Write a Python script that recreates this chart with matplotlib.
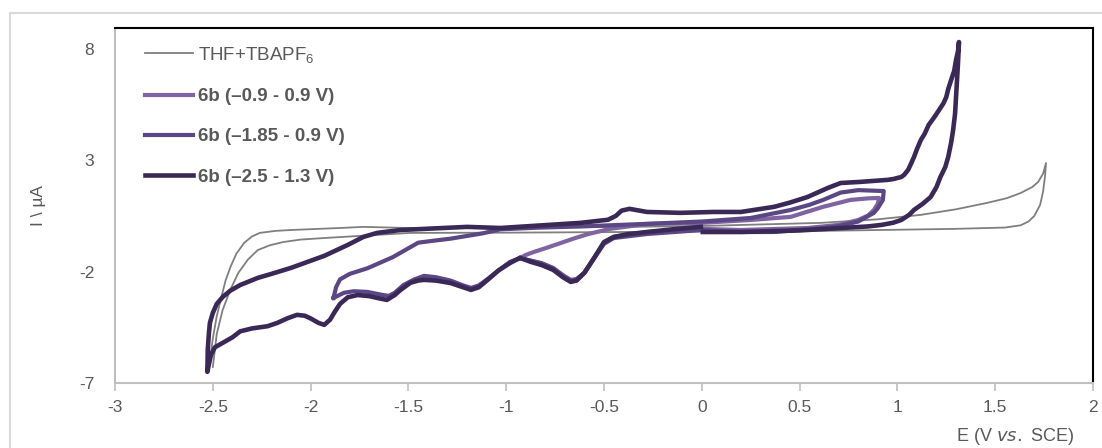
import numpy as np
import matplotlib
matplotlib.use("Agg")
import matplotlib.pyplot as plt
from matplotlib.patches import Rectangle

plt.rcParams['font.family'] = ['Liberation Sans', 'DejaVu Sans']
plt.rcParams['mathtext.default'] = 'regular'
plt.rcParams['axes.unicode_minus'] = False

# blank electrolyte THF+TBAPF6 (closed loop)
thf_x = [-2.52, -2.50, -2.48, -2.46, -2.435, -2.41, -2.38, -2.34, -2.30, -2.26, -2.18, -2.10, -1.85, -1.73, -1.50,
         -1.00, -0.50, 0.00, 0.61, 0.90, 1.12, 1.30, 1.46, 1.56, 1.63, 1.69, 1.72, 1.745, 1.76,
         1.755, 1.745, 1.73, 1.70, 1.67, 1.63, 1.55, 1.29, 0.61, 0.00, -1.00, -1.49, -1.93, -2.05, -2.14,
         -2.21, -2.27, -2.32, -2.37, -2.41, -2.45, -2.48, -2.50]
thf_y = [-6.28, -5.00, -4.00, -3.27, -2.40, -1.79, -1.20, -0.71, -0.42, -0.26, -0.17, -0.13, -0.04, 0.01, -0.04,
         -0.02, 0.00, 0.05, 0.19, 0.35, 0.55, 0.80, 1.09, 1.30, 1.53, 1.80, 2.03, 2.40, 2.88,
         2.30, 1.60, 1.00, 0.50, 0.25, 0.08, -0.02, -0.08, -0.17, -0.20, -0.25, -0.26, -0.49, -0.56, -0.67,
         -0.82, -1.03, -1.45, -2.06, -2.80, -3.72, -4.80, -6.28]

# 6b (-0.9 - 0.9 V)
lo_x = [-0.926, -0.90, -0.86, -0.79, -0.72, -0.65, -0.58, -0.47, -0.28, 0.00, 0.25, 0.455, 0.62, 0.76, 0.85, 0.906,
        0.90, 0.88, 0.85, 0.80, 0.70, 0.54, 0.20, 0.00, -0.28, -0.45, -0.50, -0.55, -0.60, -0.64, -0.67,
        -0.71, -0.76, -0.82, -0.875, -0.926]
lo_y = [-1.38, -1.25, -1.12, -0.92, -0.71, -0.50, -0.31, -0.08, 0.14, 0.19, 0.32, 0.46, 0.91, 1.22, 1.29, 1.31,
        1.05, 0.77, 0.52, 0.32, 0.10, -0.04, -0.13, -0.08, -0.22, -0.44, -0.71, -1.38, -2.05, -2.33, -2.37,
        -2.15, -1.83, -1.62, -1.52, -1.38]

# 6b (-1.85 - 0.9 V)
mid_x = [-1.883, -1.87, -1.85, -1.80, -1.71, -1.58, -1.50, -1.45, -1.38, -1.285, -1.12, -1.03, -0.85, -0.62, -0.30,
         0.00, 0.25, 0.455, 0.55, 0.62, 0.71, 0.80, 0.93,
         0.926, 0.90, 0.88, 0.80, 0.70, 0.62, 0.37, 0.20, 0.00, -0.28, -0.45, -0.50, -0.55, -0.60, -0.64, -0.67,
         -0.71, -0.76, -0.82, -0.875, -0.93, -0.98, -1.04, -1.095, -1.14, -1.18, -1.22, -1.285, -1.36, -1.42,
         -1.47, -1.525, -1.57, -1.60, -1.63, -1.71, -1.78, -1.83, -1.883]
mid_y = [-3.18, -2.70, -2.35, -2.10, -1.85, -1.35, -0.95, -0.70, -0.62, -0.52, -0.28, -0.10, -0.03, 0.03, 0.14,
         0.25, 0.41, 0.77, 1.00, 1.22, 1.55, 1.66, 1.62,
         1.22, 0.85, 0.64, 0.25, 0.05, -0.04, -0.22, -0.22, -0.13, -0.31, -0.49, -0.75, -1.38, -2.05, -2.35, -2.40,
         -2.20, -1.85, -1.62, -1.50, -1.40, -1.56, -1.95, -2.33, -2.62, -2.73, -2.62, -2.40, -2.25, -2.19,
         -2.35, -2.60, -2.95, -3.09, -3.05, -2.91, -2.88, -2.95, -3.18]

# 6b (-2.5 - 1.3 V), starts at 0 V
hi_x = [0.005, 0.20, 0.50, 0.71, 0.85, 0.92, 0.98, 1.02, 1.06, 1.085, 1.13, 1.17, 1.20, 1.22, 1.245, 1.26, 1.275,
        1.285, 1.295, 1.30, 1.305, 1.31, 1.315,
        1.31, 1.30, 1.29, 1.275, 1.26, 1.25, 1.235, 1.22, 1.19, 1.16, 1.14, 1.12, 1.10, 1.085, 1.07, 1.055, 1.035,
        1.02, 0.98, 0.95, 0.81, 0.75, 0.71, 0.645, 0.54, 0.45, 0.37, 0.20, 0.06, -0.11, -0.28, -0.33, -0.37,
        -0.41, -0.44, -0.48, -0.62, -1.03, -1.20, -1.54, -1.66, -1.73, -1.81, -1.93, -2.10, -2.20, -2.27, -2.36,
        -2.41, -2.45, -2.48, -2.50, -2.515, -2.52, -2.526, -2.528, -2.528,
        -2.523, -2.51, -2.49, -2.45, -2.40, -2.36, -2.30, -2.22, -2.17, -2.12, -2.07, -2.03, -2.00, -1.96, -1.93,
        -1.90, -1.88, -1.85, -1.81, -1.76, -1.70, -1.66, -1.61, -1.57, -1.54, -1.49, -1.45, -1.42, -1.36, -1.285,
        -1.22, -1.18, -1.14, -1.095, -1.04, -0.98, -0.93, -0.875, -0.82, -0.76, -0.71, -0.67, -0.64, -0.60, -0.55,
        -0.52, -0.50, -0.45, -0.38, -0.28, -0.15, -0.005]
hi_y = [-0.22, -0.22, -0.15, -0.04, 0.03, 0.10, 0.20, 0.32, 0.55, 0.77, 1.05, 1.35, 1.80, 2.25, 2.70, 3.15, 3.80,
        4.36, 5.10, 5.84, 6.60, 7.37, 8.31,
        7.90, 7.51, 7.00, 6.61, 6.20, 5.84, 5.55, 5.35, 4.95, 4.59, 4.20, 3.91, 3.50, 3.15, 2.85, 2.57, 2.35,
        2.25, 2.16, 2.12, 2.03, 2.00, 1.98, 1.76, 1.35, 1.10, 0.91, 0.68, 0.68, 0.64, 0.68, 0.76, 0.82,
        0.74, 0.50, 0.33, 0.19, -0.04, 0.01, -0.13, -0.26, -0.44, -0.80, -1.29, -1.83, -2.10, -2.28, -2.60,
        -2.85, -3.14, -3.45, -3.85, -4.30, -4.75, -5.50, -6.28, -6.50,
        -6.28, -5.75, -5.40, -5.20, -4.95, -4.68, -4.55, -4.45, -4.30, -4.10, -3.94, -3.98, -4.10, -4.30, -4.39,
        -4.15, -3.85, -3.45, -3.15, -3.05, -3.10, -3.18, -3.27, -3.05, -2.82, -2.50, -2.40, -2.37, -2.40, -2.51,
        -2.70, -2.82, -2.70, -2.37, -1.95, -1.61, -1.38, -1.56, -1.70, -1.92, -2.25, -2.46, -2.40, -2.05, -1.38,
        -0.95, -0.67, -0.44, -0.32, -0.22, -0.10, 0.01]

labels = ['THF+TBAPF$_6$', '6b (\u20130.9 - 0.9 V)', '6b (\u20131.85 - 0.9 V)', '6b (\u20132.5 - 1.3 V)']
colors = ['#7f7f7f', '#8064a2', '#5c4785', '#3a2957']
x_ticks = [-3, -2.5, -2, -1.5, -1, -0.5, 0, 0.5, 1, 1.5, 2]
y_ticks = [-7, -2, 3, 8]

fig = plt.figure(figsize=(11.02, 4.48), dpi=100)
fig.patches.append(Rectangle((0.009, -0.2), 1.2, 1.171, transform=fig.transFigure,
                             fill=False, edgecolor='#d9d9d9', linewidth=1.5))
ax = fig.add_axes([0.1044, 0.1451, 0.8874, 0.7924])

ax.plot(thf_x, thf_y, color=colors[0], lw=1.3, label=labels[0])
ax.plot(lo_x, lo_y, color=colors[1], lw=3, label=labels[1], solid_joinstyle='round')
ax.plot(mid_x, mid_y, color=colors[2], lw=3, label=labels[2], solid_joinstyle='round')
ax.plot(hi_x, hi_y, color=colors[3], lw=3.3, label=labels[3], solid_joinstyle='round')

ax.set_xlim(-3, 2)
ax.set_ylim(-7, 8.94)
ax.set_xticks(x_ticks)
ax.set_xticklabels([('%g' % v) for v in x_ticks])
ax.set_yticks(y_ticks)
ax.tick_params(axis='x', colors='#bfbfbf', length=6, width=1.2, labelcolor='#595959', labelsize=12.5, pad=6)
ax.tick_params(axis='y', length=0, labelcolor='#595959', labelsize=12.5, pad=15)

for s in ['left', 'bottom']:
    ax.spines[s].set_color('#bfbfbf')
    ax.spines[s].set_linewidth(1.5)
for s in ['top', 'right']:
    ax.spines[s].set_color('black')
    ax.spines[s].set_linewidth(1.5)

ax.set_ylabel('I \\ \u00b5A', color='#595959', fontsize=12.5, labelpad=24)
fig.text(0.975, 0.0246, 'E (V $\\it{vs.}$ SCE)', ha='right', va='center', color='#595959', fontsize=13)

leg = ax.legend(loc='upper left', bbox_to_anchor=(0.0307, 0.952), frameon=False, fontsize=13.5,
                handlelength=2.56, handletextpad=0.27, labelspacing=1.23, borderpad=0, borderaxespad=0)
for i, t in enumerate(leg.get_texts()):
    t.set_color('#595959')
    if i > 0:
        t.set_fontweight('bold')

fig.savefig('out.png', dpi=100)
